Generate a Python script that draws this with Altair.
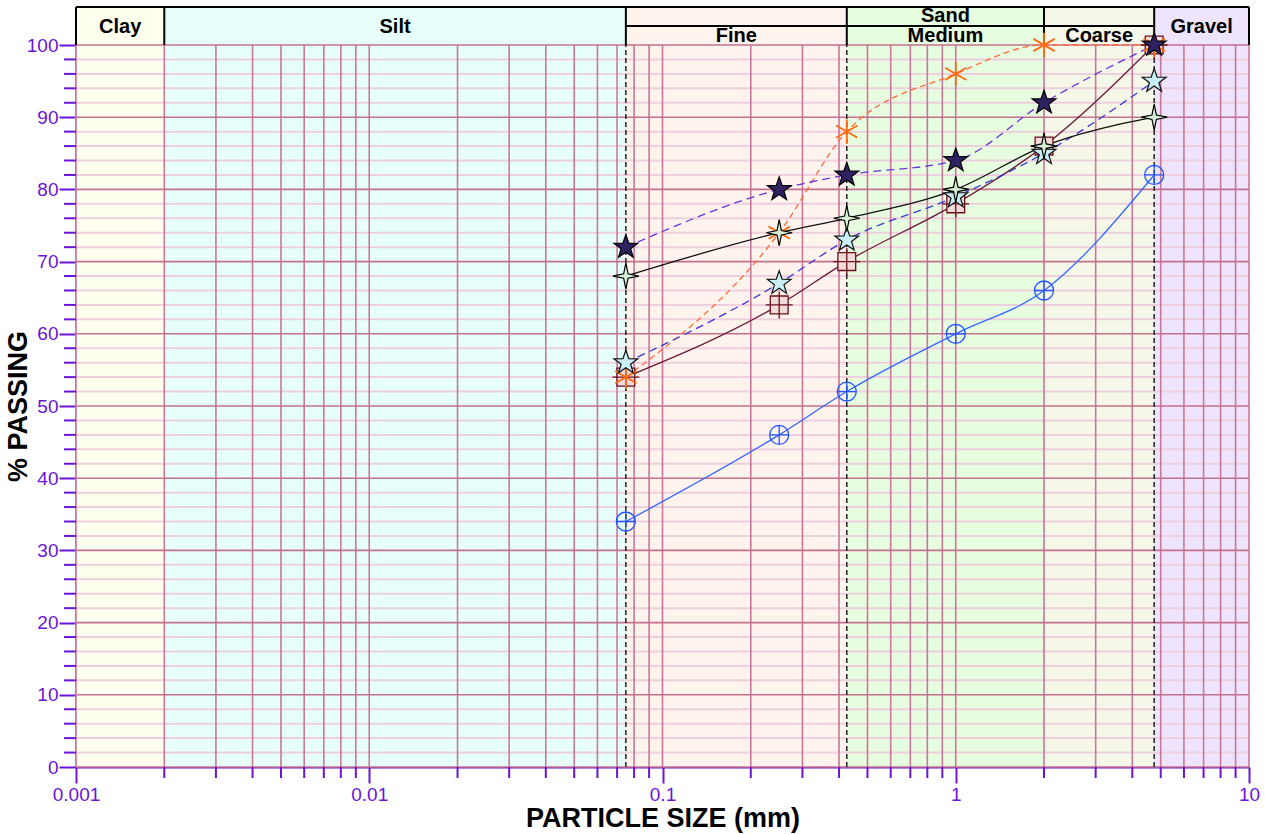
import math
import altair as alt
import pandas as pd

# ---------------- data ----------------
sieve_mm = [0.075, 0.25, 0.425, 1.0, 2.0, 4.75]
pass_circle = [34, 46, 52, 60, 66, 82]
pass_square = [54, 64, 70, 78, 86, 100]
pass_asterisk = [54, 74, 88, 96, 100, 100]
pass_light_star = [56, 67, 73, 79, 85, 95]
pass_dark_star = [72, 80, 82, 84, 92, 100]
pass_four_star = [68, 74, 76, 80, 86, 90]

zone_names = ["Clay", "Silt", "Fine", "Medium", "Coarse", "Gravel"]
zone_from = [0.001, 0.002, 0.075, 0.425, 2.0, 4.75]
zone_to = [0.002, 0.075, 0.425, 2.0, 4.75, 10]
zone_two_row = [False, False, True, True, True, False]

x_major_ticks = [0.001, 0.01, 0.1, 1, 10]
x_minor_ticks = [0.002, 0.003, 0.004, 0.005, 0.006, 0.007, 0.008, 0.009,
                 0.02, 0.03, 0.04, 0.05, 0.06, 0.07, 0.08, 0.09,
                 0.2, 0.3, 0.4, 0.5, 0.6, 0.7, 0.8, 0.9,
                 2, 3, 4, 5, 6, 7, 8, 9]
y_major_ticks = [0, 10, 20, 30, 40, 50, 60, 70, 80, 90, 100]
y_minor_ticks = [v for v in range(2, 100, 2) if v % 10 != 0]
dashed_bounds = [0.075, 0.425, 4.75]

# ---------------- style ----------------
FONT = "Liberation Sans"
PURPLE = "#6A14D8"
zone_colors = ["#FFFFF0", "#E6FFFA", "#FFF3EE", "#E6FDE0", "#F5F8E8", "#EEE4FD"]
Y_TOP, Y_MID, Y_BOT = 105.26, 102.63, 100.0

xscale = alt.Scale(type="log", domain=[0.001, 10], nice=False)
yscale = alt.Scale(domain=[0, 100], nice=False, zero=False)

xaxis = alt.Axis(values=x_major_ticks, format="~g", title="PARTICLE SIZE (mm)",
                 grid=False, tickSize=16, tickWidth=2, tickColor=PURPLE,
                 domainColor=PURPLE, domainWidth=2, labelColor=PURPLE,
                 labelFont=FONT, labelFontSize=19, labelPadding=2,
                 labelFlush=False, labelOverlap=False,
                 titleFont=FONT, titleFontSize=27, titleFontWeight="bold",
                 titleColor="black", titlePadding=1)
yaxis = alt.Axis(values=y_major_ticks, title="% PASSING", grid=False,
                 tickSize=17, tickWidth=2, tickColor=PURPLE,
                 domainColor=PURPLE, domainWidth=2, labelColor=PURPLE,
                 labelFont=FONT, labelFontSize=19, labelPadding=1,
                 labelFlush=False, labelOverlap=False,
                 titleFont=FONT, titleFontSize=27, titleFontWeight="bold",
                 titleColor="black", titleX=-44, titleBaseline="bottom")

X = alt.X("x:Q", scale=xscale, axis=xaxis)
Y = alt.Y("y:Q", scale=yscale, axis=yaxis)


def star_path(n, r_in):
    pts = []
    for i in range(2 * n):
        a = -math.pi / 2 + i * math.pi / n
        r = 1.0 if i % 2 == 0 else r_in
        pts.append(f"{r * math.cos(a):.3f},{r * math.sin(a):.3f}")
    return "M" + "L".join(pts) + "Z"


circle_plus = "M-1,0A1,1,0,1,1,1,0A1,1,0,1,1,-1,0Z M-1,0L1,0 M0,-1L0,1"
square_plus = "M-0.66,-0.66L0.66,-0.66L0.66,0.66L-0.66,0.66Z M-1,0L1,0 M0,-1L0,1"
asterisk = "M0,-1L0,1 M-0.87,-0.5L0.87,0.5 M-0.87,0.5L0.87,-0.5"
star5 = star_path(5, 0.4)
star4 = star_path(4, 0.24)

series = [
    dict(vals=pass_circle, line="#3366FF", dash=None, shape=circle_plus, size=361,
         fill="transparent", stroke="#2255FF", sw=1.3),
    dict(vals=pass_square, line="#6B1A3A", dash=None, shape=square_plus, size=729,
         fill="#F2DADA", stroke="#6B0F1A", sw=1.3),
    dict(vals=pass_asterisk, line="#FF6A3A", dash=[6, 4], shape=asterisk, size=600,
         fill="transparent", stroke="#FF6A10", sw=1.8),
    dict(vals=pass_light_star, line="#3A3AD0", dash=[8, 5], shape=star5, size=625,
         fill="#C8EEF8", stroke="#111111", sw=1.2),
    dict(vals=pass_dark_star, line="#6A33DD", dash=[8, 5], shape=star5, size=625,
         fill="#2E2263", stroke="#000000", sw=1.2),
    dict(vals=pass_four_star, line="#111111", dash=None, shape=star4, size=676,
         fill="#D6EED6", stroke="#000000", sw=1.2),
]

# ---------------- layers ----------------
zones = pd.DataFrame({"name": zone_names, "x": zone_from, "x2": zone_to,
                      "color": zone_colors, "two": zone_two_row})
zones["cx"] = [math.sqrt(a * b) for a, b in zip(zone_from, zone_to)]

bg = alt.Chart(zones).mark_rect(strokeWidth=0).encode(
    x=X, x2="x2:Q", y=alt.datum(0, scale=yscale), y2=alt.datum(Y_TOP),
    color=alt.Color("color:N", scale=None))

hminor = alt.Chart(pd.DataFrame({"y": y_minor_ticks})).mark_rule(
    color="#EDCFDD", strokeWidth=2).encode(
    y=Y, x=alt.datum(0.001, scale=xscale), x2=alt.datum(10))
vgrid = alt.Chart(pd.DataFrame({"x": x_minor_ticks + x_major_ticks})).mark_rule(
    color="#C87898", strokeWidth=1.6).encode(
    x=X, y=alt.datum(0), y2=alt.datum(100))
hmajor = alt.Chart(pd.DataFrame({"y": y_major_ticks})).mark_rule(
    color="#C4708F", strokeWidth=1.6).encode(
    y=Y, x=alt.datum(0.001, scale=xscale), x2=alt.datum(10))
dashed = alt.Chart(pd.DataFrame({"x": dashed_bounds})).mark_rule(
    color="#222222", strokeWidth=1.5, strokeDash=[5, 3]).encode(
    x=X, y=alt.datum(0), y2=alt.datum(100))

# header borders
hdr_v = alt.Chart(pd.DataFrame({"x": [0.001] + zone_to})).mark_rule(
    color="black", strokeWidth=2).encode(
    x=X, y=alt.datum(Y_BOT), y2=alt.datum(Y_TOP))
hdr_h = alt.Chart(pd.DataFrame({"x": [0.001, 0.075], "x2": [10, 4.75],
                                "y": [Y_TOP, Y_MID]})).mark_rule(
    color="black", strokeWidth=2).encode(x=X, x2="x2:Q", y=Y)

txt = dict(font=FONT, fontSize=20, fontWeight="bold", color="black", baseline="middle")
hdr_full = alt.Chart(zones[~zones["two"]]).mark_text(**txt).encode(
    x=alt.X("cx:Q", scale=xscale, axis=xaxis), y=alt.datum(102.5), text="name:N")
hdr_low = alt.Chart(zones[zones["two"]]).mark_text(**txt).encode(
    x=alt.X("cx:Q", scale=xscale, axis=xaxis), y=alt.datum(101.18), text="name:N")
hdr_sand = alt.Chart(pd.DataFrame({"x": [math.sqrt(0.425 * 2.0)], "t": ["Sand"]})).mark_text(
    **txt).encode(x=X, y=alt.datum(104.02), text="t:N")

# minor ticks on axes
xminor = alt.Chart(pd.DataFrame({"x": x_minor_ticks})).mark_rule(
    color=PURPLE, strokeWidth=2).encode(x=X, y=alt.value(722), y2=alt.value(733))
yminor = alt.Chart(pd.DataFrame({"y": y_minor_ticks})).mark_rule(
    color=PURPLE, strokeWidth=2).encode(y=Y, x=alt.value(-12), x2=alt.value(0))

line_layers, point_layers = [], []
for s in series:
    df = pd.DataFrame({"x": sieve_mm, "y": s["vals"]})
    lkw = dict(color=s["line"], strokeWidth=1.3, interpolate="monotone")
    if s["dash"]:
        lkw["strokeDash"] = s["dash"]
    line_layers.append(alt.Chart(df).mark_line(**lkw).encode(x=X, y=Y))
    point_layers.append(alt.Chart(df).mark_point(
        shape=s["shape"], size=s["size"], filled=True, fill=s["fill"],
        stroke=s["stroke"], strokeWidth=s["sw"], opacity=1, fillOpacity=1,
        strokeOpacity=1).encode(x=X, y=Y))

chart = alt.layer(
    bg, hminor, vgrid, hmajor, dashed, hdr_v, hdr_h, hdr_full, hdr_low, hdr_sand,
    *line_layers, *point_layers, xminor, yminor
).properties(
    width=1173, height=722,
    autosize=alt.AutoSizeParams(type="none"),
    padding={"left": 76, "top": 45, "right": 16, "bottom": 67},
).configure_view(strokeWidth=0)

chart.save("out.html", embed_options={"renderer": "svg", "actions": False})
